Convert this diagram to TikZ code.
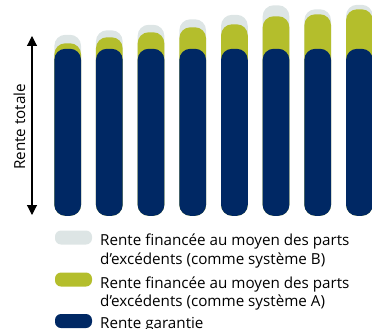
\documentclass[tikz,border=0pt]{standalone}
\usepackage{fontspec}
\setmainfont{Open Sans}
\usetikzlibrary{arrows.meta}

\definecolor{greyrente}{RGB}{221,229,229}
\definecolor{greenrente}{RGB}{180,190,44}
\definecolor{navyrente}{RGB}{0,40,100}

\begin{document}
\begin{tikzpicture}[x=1pt,y=-1pt]
        \useasboundingbox (0,0) rectangle (372,329);

        \begin{scope}[every node/.style={fill=greyrente, rounded corners=11pt, anchor=south, minimum width=26.7pt, inner sep=0pt}]
            \node (G1) [minimum height=181pt] at (67.7,216) {};
            \node (G2) [minimum height=185.5pt] at (109.3,216) {};
            \node (G3) [minimum height=191pt] at (151.0,216) {};
            \node (G4) [minimum height=196.5pt] at (192.7,216) {};
            \node (G5) [minimum height=201pt] at (234.4,216) {};
            \node (G6) [minimum height=210.5pt] at (276.0,216) {};
            \node (G7) [minimum height=206.5pt] at (317.7,216) {};
            \node (G8) [minimum height=211pt] at (359.4,216) {};
        \end{scope}

        \begin{scope}[every node/.style={fill=greenrente, rounded corners=11pt, anchor=south, minimum width=26.7pt, inner sep=0pt}]
            \node (A1) [minimum height=172.5pt] at (67.7,216) {};
            \node (A2) [minimum height=178.5pt] at (109.3,216) {};
            \node (A3) [minimum height=183.5pt] at (151.0,216) {};
            \node (A4) [minimum height=188.5pt] at (192.7,216) {};
            \node (A5) [minimum height=191.5pt] at (234.4,216) {};
            \node (A6) [minimum height=199.5pt] at (276.0,216) {};
            \node (A7) [minimum height=201.5pt] at (317.7,216) {};
            \node (A8) [minimum height=206.5pt] at (359.4,216) {};
        \end{scope}

        \begin{scope}[every node/.style={fill=navyrente, rounded corners=11pt, anchor=south, minimum width=26.7pt, minimum height=167pt, inner sep=0pt}]
            \node (N1) at (67.7,216) {};
            \node (N2) at (109.3,216) {};
            \node (N3) at (151.0,216) {};
            \node (N4) at (192.7,216) {};
            \node (N5) at (234.4,216) {};
            \node (N6) at (276.0,216) {};
            \node (N7) at (317.7,216) {};
            \node (N8) at (359.4,216) {};
        \end{scope}

        \coordinate (top) at (32,36);
        \coordinate (bottom) at (32,215);
        \draw [{Triangle[width=10pt,length=10pt]}-{Triangle[width=10pt,length=10pt]}, line width=1.1pt] (bottom) -- (top);
        \node (total) [rotate=90, font=\fontsize{15.2}{18}\selectfont, inner sep=0pt] at (19.5,127) {Rente totale};

        \begin{scope}[every node/.style={rounded corners=6pt, minimum width=37pt, minimum height=14pt, inner sep=0pt}]
            \node (keyB) [fill=greyrente] at (73.5,237.5) {};
            \node (keyA) [fill=greenrente] at (73.5,279.5) {};
            \node (keyN) [fill=navyrente] at (73.5,321) {};
        \end{scope}

        \begin{scope}[every node/.style={anchor=base west, align=left, inner sep=0pt, font=\fontsize{15.2}{18.5}\selectfont}]
            \node (textB) at (100,264.2) {Rente financée au moyen des parts\\d’excédents (comme système B)};
            \node (textA) at (100,306.8) {Rente financée au moyen des parts\\d’excédents (comme système A)};
            \node (textN) at (100,328.8) {Rente garantie};
        \end{scope}
    \end{tikzpicture}
\end{document}
